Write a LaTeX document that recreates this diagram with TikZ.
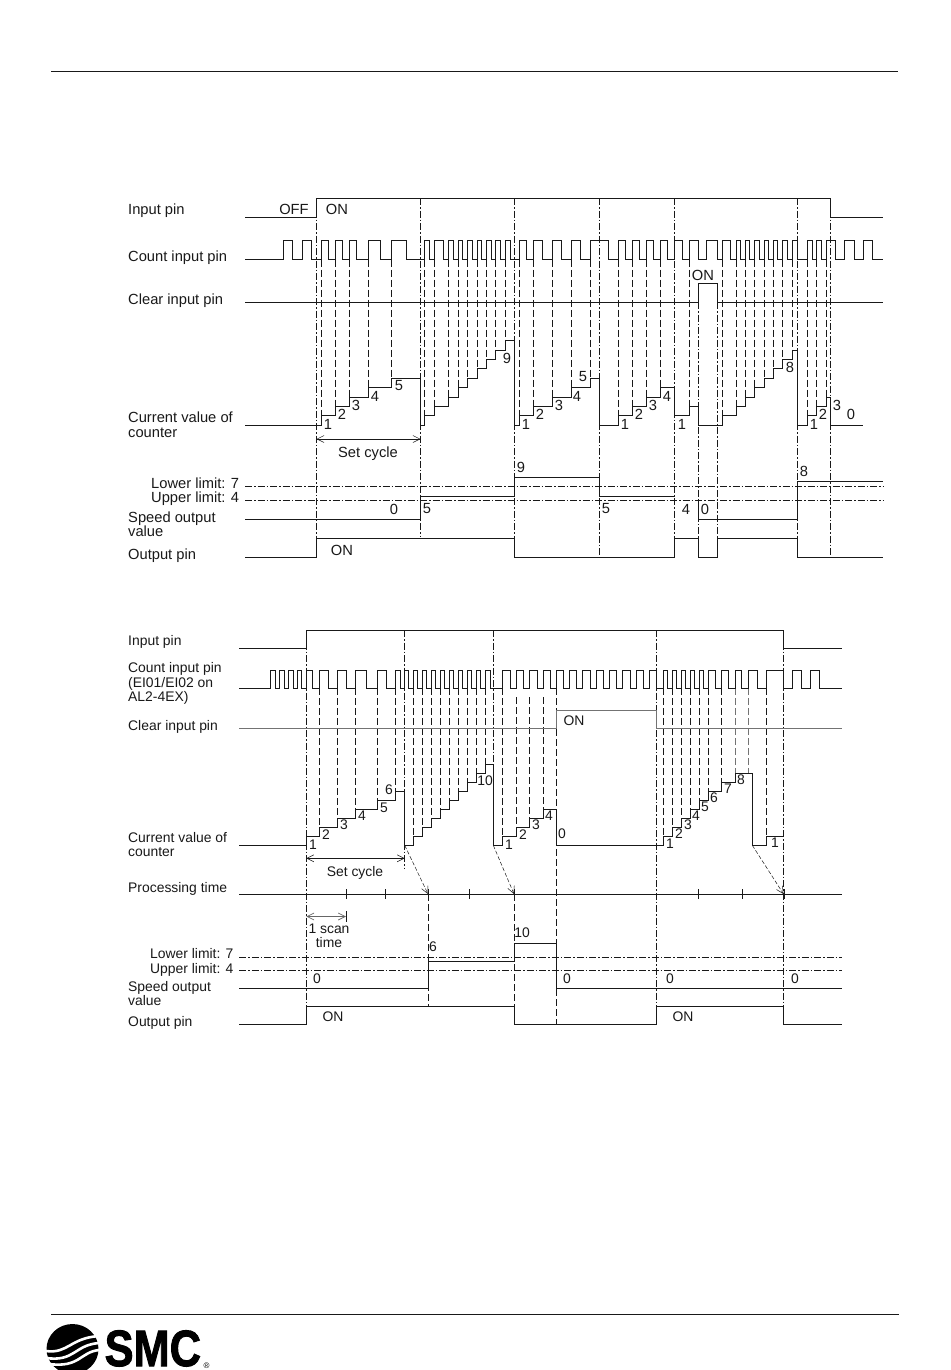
\documentclass[tikz,border=0pt]{standalone}
\usepackage{fontspec}
\setmainfont{Liberation Sans}
\newfontfamily\logofont[BoldFeatures={FakeBold=2}]{Liberation Sans}
\usetikzlibrary{arrows.meta}

\begin{document}
\begin{tikzpicture}[
  x=1pt, y=-1pt,
  >={Straight Barb[length=7pt,width=7pt]},
  every node/.style={font=\fontsize{14.7}{14.5}\selectfont, text=black!90, inner sep=0pt},
  lab/.style={anchor=west, align=left},
  num/.style={anchor=center},
  sig/.style={line width=0.9pt, black!90},
  dimgray/.style={line width=0.9pt, black!55},
  cyc/.style={line width=0.8pt, black!90, dash pattern=on 7pt off 2pt on 1.5pt off 2pt},
  cnt/.style={line width=0.8pt, black!90, dash pattern=on 7pt off 3pt},
  slant/.style={line width=0.5pt, black!90, dash pattern=on 4pt off 2pt}
]
  \useasboundingbox (0,0) rectangle (950,1370);
  \fill[white] (0,0) rectangle (950,1370);

  % page rules
  \draw[sig] (51,71) -- (898,71);
  \draw[sig] (51,1314) -- (899,1314);

  % upper chart, cycle lines and limits
  \foreach \x/\yend in {316.5/539, 420.5/537, 514.5/558, 599.5/558, 674.5/558, 797.5/558, 830/558}
    \draw[cyc] (\x,198) -- (\x,\yend);
  \foreach \x in {698.3, 717.3}
    \draw[cyc] (\x,302) -- (\x,558);
  \draw[cyc] (245,486) -- (883,486);
  \draw[cyc] (245,500.7) -- (883,500.7);

  % upper chart, count marks
  \foreach \x/\lv in {321/1, 335/2, 349.3/3, 368.3/4, 391.7/5,
      424.3/1, 434/2, 448.7/3, 458.3/4, 467.7/5, 477/6, 486.3/7, 495.7/8, 505.3/9,
      519.3/1, 533.3/2, 552.7/3, 571.7/4, 590/5,
      618.3/1, 632.3/2, 646.3/3, 660.3/4, 689.3/2,
      722.7/1, 736/2, 745.3/3, 754.7/4, 764/5, 773.3/6, 782.7/7, 792/8,
      807.3/1, 816.7/2, 826/3}
    \draw[cnt] (\x,259.5) -- (\x,{425.3-9.4*\lv});

  % upper chart, signals
  \draw[sig] (245,217) -| (316.5,198) -| (830,217) -- (883,217);
  \draw[sig] (245,259.5) foreach \up/\dn in {283.3/292.7, 302.3/311.7, 321/328.3, 335/342.3, 349.3/356.7, 368.3/380, 391.7/406,
      424.3/429, 434/443.3, 448.7/453.3, 458.3/462.7, 467.7/472, 477/481.3, 486.3/491, 495.7/500.3, 505.3/510,
      519.3/526.7, 533.3/542.7, 552.7/561.7, 571.7/580, 590/608.3,
      618.3/625, 632.3/639.3, 646.3/653.3, 660.3/667.3, 674.3/682.3, 689.3/698.3, 706/717.7,
      722.7/730, 736/740.5, 745.3/749.8, 754.7/759.2, 764/768.5, 773.3/777.8, 782.7/787.2, 792/797,
      807.3/812, 816.7/821.3, 826/835.7, 844.7/854, 863.3/872.7}
    { -- (\up,259.5) -- (\up,240.5) -- (\dn,240.5) -- (\dn,259.5) } -- (883,259.5);
  \draw[sig] (245,302) -| (698.3,283.3) -| (717.3,302) -- (883,302);
  \draw[sig] (245,425.3) foreach \x/\lv in {321/1, 335/2, 349.3/3, 368.3/4, 391.7/5, 420.5/0,
      424.3/1, 434/2, 448.7/3, 458.3/4, 467.7/5, 477/6, 486.3/7, 495.7/8, 505.3/9, 514.5/0,
      519.3/1, 533.3/2, 552.7/3, 571.7/4, 590/5, 599.5/0,
      618.3/1, 632.3/2, 646.3/3, 660.3/4, 674.5/1, 689.3/2, 698.3/0,
      722.7/1, 736/2, 745.3/3, 754.7/4, 764/5, 773.3/6, 782.7/7, 792/8, 797.5/0,
      807.3/1, 816.7/2, 826/3, 830/0}
    { -| (\x,{425.3-9.4*\lv}) } -- (863,425.3);
  \draw[sig] (245,519.3) -| (420.5,496.3) -| (514.5,477.3) -| (599.5,496.3) -- (674.5,496.3);
  \draw[sig] (698.3,500.7) |- (797.5,519.3) |- (883,481);
  \draw[sig] (245,557.5) -| (316.5,538.5) -| (514.5,557.5) -| (674.5,538.5) -| (698.3,557.5) -| (717.3,538.5) -| (797.5,557.5) -- (883,557.5);
  \draw[<->, line width=0.5pt, black!90] (316.5,439) -- (420.5,439);

  % upper chart, texts
  \node[lab] (inA) at (128,211) {Input pin};
  \node[lab] (countA) at (128,258) {Count input pin};
  \node[lab] (clearA) at (128,301) {Clear input pin};
  \node[lab] (curA) at (128,424.5) {Current value of\\counter};
  \node[lab] (lowerA) at (151,483) {Lower limit: 7};
  \node[lab] (upperA) at (151,499) {Upper limit: 4};
  \node[lab] (speedA) at (128,524) {Speed output\\value};
  \node[lab] (outA) at (128,556) {Output pin};
  \node[num] (offA) at (294,209.5) {OFF};
  \node[num] (onA) at (337,209.5) {ON};
  \node[num] (onB) at (703,275) {ON};
  \node[num] (onC) at (342,550) {ON};
  \node[num] (setA) at (368,454) {Set cycle};
  \foreach \i/\x/\y/\val in {1/328/424/1, 2/342/414/2, 3/356/405/3, 4/375/396/4, 5/399/386/5, 6/507/358/9,
      7/526/424/1, 8/540/414/2, 9/559/405/3, 10/577/396/4, 11/583/377/5,
      12/625/424/1, 13/639/414/2, 14/653/405/3, 15/667/396/4, 16/682/424/1,
      17/790/367/8, 18/814/424/1, 19/823/414/2, 20/837/405/3, 21/851/414/0,
      22/394/509/0, 23/427/509/5, 24/521/467/9, 25/606/509/5, 26/686/509/4, 27/705/509/0, 28/804/471/8}
    \node[num] (a\i) at (\x,\y) {\val};

  % lower chart, cycle lines and limits
  \foreach \x/\yend in {306.3/1006, 404.7/868.5, 656.7/1006, 783.3/1025}
    \draw[cyc] (\x,630) -- (\x,\yend);
  \draw[cyc] (493.3,630) -- (493.3,765);
  \draw[cnt] (556.7,688) -- (556.7,710);
  \draw[cnt] (556.7,729) -- (556.7,1024);
  \draw[cnt] (428,894) -- (428,1006);
  \draw[cnt] (514,894) -- (514,1024);
  \draw[cyc] (239,957.3) -- (842,957.3);
  \draw[cyc] (239,970.3) -- (842,970.3);

  % lower chart, count marks
  \foreach \x/\lv in {319.3/2, 337.3/3, 355.3/4, 377.3/5, 395.3/6,
      413.3/1, 422.3/2, 431.3/3, 440.3/4, 449.3/5, 458.3/6, 467.3/7, 476.3/8, 485.3/9,
      663.3/1, 672.3/2, 681.3/3, 690.3/4, 699.3/5, 708.3/6, 721.7/7, 766.7/1}
    \draw[cnt] (\x,688) -- (\x,{845.3-9*\lv});
  \foreach \x/\lv in {516.3/2, 529.7/3, 543.3/4}
    \draw[cnt] (\x,697) -- (\x,{845.3-9*\lv});
  \draw[cnt] (502.7,688) -- (502.7,836.3);
  \foreach \x in {735, 748.3}
    \draw[cnt, black!55] (\x,688) -- (\x,773.3);

  % lower chart, signals
  \draw[sig] (239,648.3) -| (306.3,630) -| (783.3,648.3) -- (842,648.3);
  \draw[sig] (239,688) foreach \up/\dn in {270/275, 279.3/284, 288.3/293.3, 297.3/301.7, 306.3/312.7, 319.3/328.3, 337.3/346, 355.3/366.7,
      377.3/386.7, 395.3/400.7, 404.7/408.7, 413.3/417.7, 422.3/426.7, 431.3/435.7, 440.3/444.7, 449.3/453.7, 458.3/462.7, 467.3/471.7, 476.3/480.7, 485.3/490,
      502.7/510, 516.3/523.7, 529.7/537, 543.3/550.7,
      556/563.3, 569.3/576.7, 582.7/590, 596/603.3, 609.3/616.7, 622.7/630, 636/643.3, 649.3/656.7,
      663.3/667.3, 672.3/676.7, 681.3/685.7, 690.3/694.7, 699.3/703.3, 708.3/715.7, 721.7/728.3, 735/741.7, 748.3/757.7, 766.7/783.3,
      792.3/801.3, 810/819.3}
    { -- (\up,688) -- (\up,670.3) -- (\dn,670.3) -- (\dn,688) } -- (842,688);
  \draw[dimgray] (239,728.7) -| (556.7,710.3) -| (656.7,728.7) -- (842,728.7);
  \draw[sig] (239,845.3) -| (306.3,836.3) foreach \x/\lv in {319.3/2, 337.3/3, 355.3/4, 377.3/5, 395.3/6, 404.7/0,
      413.3/1, 422.3/2, 431.3/3, 440.3/4, 449.3/5, 458.3/6, 467.3/7, 476.3/8, 485.3/9, 493.3/0,
      502.7/1, 516.3/2, 529.7/3, 543.3/4, 556.7/0,
      663.3/1, 672.3/2, 681.3/3, 690.3/4, 699.3/5, 708.3/6, 721.7/7, 735/8, 752.3/0, 766.7/1}
    { -| (\x,{845.3-9*\lv}) } -- (783.3,836.3);
  \draw[sig] (239,894.3) -- (842,894.3);
  \foreach \x in {346, 385, 428, 469, 514, 698, 742, 784}
    \draw[sig] (\x,889) -- (\x,899);
  \draw[->, slant] (404.7,845.3) -- (428,894);
  \draw[->, slant] (493.3,845.3) -- (514,894);
  \draw[->, slant] (752.3,845.3) -- (783.5,894);
  \draw[<->, line width=0.5pt, black!90] (306.3,858.3) -- (404.7,858.3);
  \draw[<->, line width=0.7pt, black!60] (306.3,916.5) -- (346,916.5);
  \draw[line width=0.5pt, black!90] (346,911) -- (346,922);
  \draw[sig] (239,988.3) -| (428,961.3) -| (514,943.7) -| (556.7,988.3) -- (842,988.3);
  \draw[sig] (239,1024.3) -| (306.3,1006) -| (514,1024.3) -| (656.7,1006) -| (783.3,1024.3) -- (842,1024.3);

  % lower chart, texts
  \begin{scope}[every node/.style={font=\fontsize{13.9}{14.3}\selectfont, text=black!90, inner sep=0pt}]
  \node[lab] (inB) at (128,642) {Input pin};
  \node[lab] (countB) at (128,683.5) {Count input pin\\(EI01/EI02 on\\AL2-4EX)};
  \node[lab] (clearB) at (128,727) {Clear input pin};
  \node[lab] (curB) at (128,844.5) {Current value of\\counter};
  \node[lab] (procB) at (128,889) {Processing time};
  \node[lab] (lowerB) at (150,954) {Lower limit: 7};
  \node[lab] (upperB) at (150,970) {Upper limit: 4};
  \node[lab] (speedB) at (128,993.5) {Speed output\\value};
  \node[lab] (outB) at (128,1023) {Output pin};
  \node[num] (onD) at (574,721) {ON};
  \node[num] (onE) at (333,1017) {ON};
  \node[num] (onF) at (683,1017) {ON};
  \node[num] (setB) at (355,873) {Set cycle};
  \node[num, align=center] (scanB) at (329,936) {1 scan\\time};
  \foreach \i/\x/\y/\val in {1/313/845/1, 2/326/835/2, 3/344/825/3, 4/362/816/4, 5/384/808/5, 6/389/790/6, 7/485/781/10,
      8/509/845/1, 9/523/835/2, 10/536/825/3, 11/549/816/4, 12/562/834/0,
      13/670/844/1, 14/679/834/2, 15/688/825/3, 16/696/816/4, 17/705/807/5, 18/714/798/6, 19/728/789/7, 20/741/780/8, 21/775/843/1,
      22/433/947/6, 23/522/933/10, 24/317/979/0, 25/567/979/0, 26/670/979/0, 27/795/979/0}
    \node[num] (b\i) at (\x,\y) {\val};
  \end{scope}

  % logo
  \fill[black] (72.5,1349) ellipse [x radius=26, y radius=25];
  \draw[white, line width=2.6pt] (46,1351) .. controls (68,1354) and (70,1338) .. (99,1336);
  \draw[white, line width=2.6pt] (46,1358) .. controls (75,1362) and (74,1345) .. (99,1343);
  \draw[white, line width=2.6pt] (49,1364) .. controls (80,1368) and (80,1352) .. (99,1350);
  \node[anchor=base west, font=\fontsize{51}{51}\logofont\bfseries, text=black, xscale=0.85] (smc) at (104.5,1366) {SMC};
  \node[font=\fontsize{8}{8}\selectfont, text=black] (regd) at (206.5,1366) {®};
\end{tikzpicture}
\end{document}
